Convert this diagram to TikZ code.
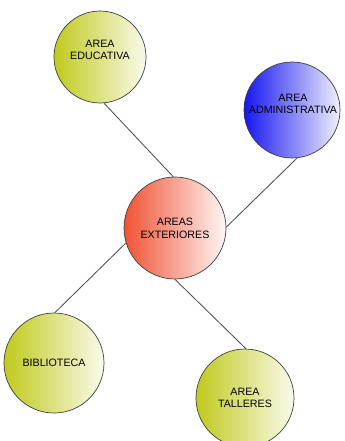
\documentclass[tikz,border=0pt]{standalone}
\usepackage{fontspec}
\setmainfont{Liberation Sans}
\definecolor{verde}{RGB}{192,202,28}
\definecolor{azul}{RGB}{22,22,240}
\definecolor{rojo}{RGB}{240,82,52}
\tikzset{zona/.style={circle,draw=black!75,line width=0.5pt,
  minimum size=#1,inner sep=0pt,align=center,
  font=\fontsize{7.6}{9}\selectfont}}
\tikzset{verdezona/.style={left color=verde,right color=verde!8}}
\tikzset{azulzona/.style={left color=azul,right color=azul!6}}
\tikzset{rojozona/.style={left color=rojo,right color=rojo!5}}
\tikzset{texto/.style={align=center,font=\fontsize{7.6}{9}\selectfont}}

\begin{document}
\begin{tikzpicture}[x=0.025cm,y=-0.025cm]

\useasboundingbox (0,0) rectangle (344,441);

\node[zona=92*0.025cm,verdezona] (edu) at (100,57) {};
\node[texto] (edutxt) at (100,50) {AREA\\EDUCATIVA};
\node[zona=96*0.025cm,azulzona] (admin) at (292,110) {};
\node[texto] (admintxt) at (293,104) {AREA\\ADMINISTRATIVA};
\node[zona=102*0.025cm,rojozona] (ext) at (175,228) {AREAS\\EXTERIORES};
\node[zona=100*0.025cm,verdezona] (bib) at (54,363) {BIBLIOTECA};
\node[zona=98*0.025cm,verdezona] (tall) at (245,398) {AREA\\TALLERES};

% lineas entre las areas
\draw[black!70,line width=0.6pt] (edu.-85) -- (ext.92);
\draw[black!70,line width=0.6pt] (admin.-84) -- (ext.1);
\draw[black!70,line width=0.6pt] (bib.89) -- (ext.-163);
\draw[black!70,line width=0.6pt] (ext.-90) -- (tall.89);

\end{tikzpicture}
\end{document}
